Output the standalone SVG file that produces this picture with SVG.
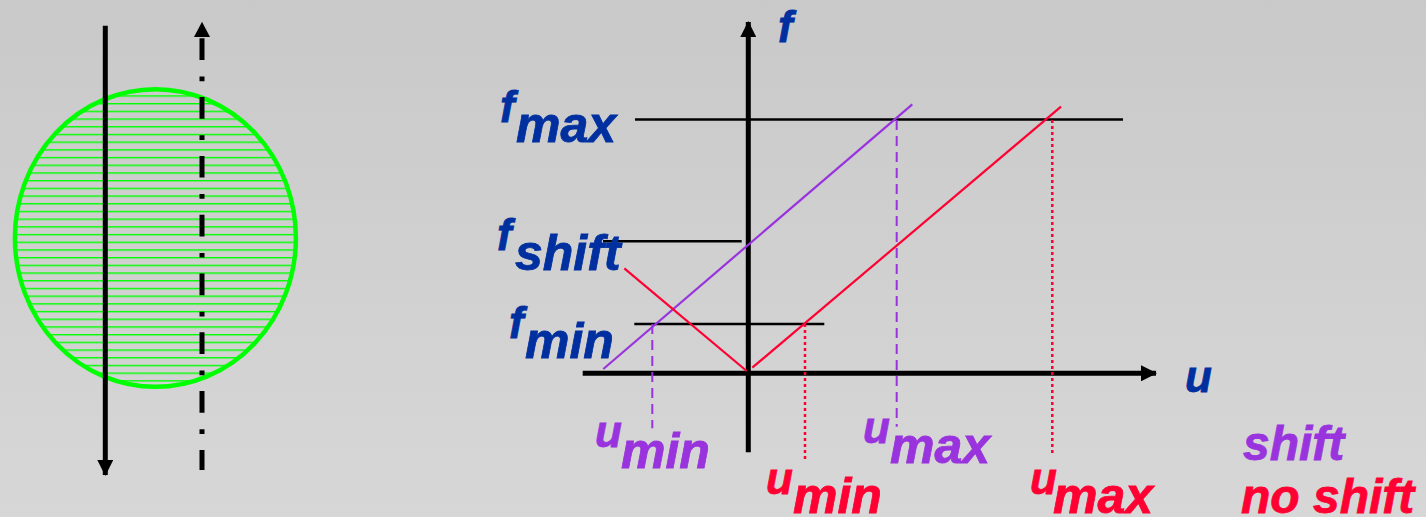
<svg xmlns="http://www.w3.org/2000/svg" width="1426" height="517" viewBox="0 0 1426 517">
<style>
text{font-family:"Liberation Sans",Arial,sans-serif;font-weight:bold;font-style:italic;stroke-width:0.8}
.m{font-size:44px}
.s{font-size:50px}
.blue{fill:#0030A0;stroke:#0030A0}
.pur{fill:#9933DD;stroke:#9933DD}
.red{fill:#FF0033;stroke:#FF0033}
.ax{stroke:#000;stroke-width:5;fill:none}
.ref{stroke:#000;stroke-width:2.5;fill:none}
.pl{stroke:#9933DD;stroke-width:2.2;fill:none}
.rl{stroke:#FF0033;stroke-width:2.2;fill:none}
.pd{stroke:#9933DD;stroke-width:2;stroke-dasharray:10 6;fill:none}
.rd{stroke:#FF0033;stroke-width:2.5;stroke-dasharray:3 3;fill:none}
</style>
<defs>
<linearGradient id="bg" x1="0" y1="0" x2="0" y2="1">
<stop offset="0" stop-color="#C9C9C9"/>
<stop offset="1" stop-color="#D7D7D7"/>
</linearGradient>
<pattern id="hatch" patternUnits="userSpaceOnUse" x="0" y="0" width="20" height="7.7">
<line x1="0" y1="3.6" x2="20" y2="3.6" stroke="#00FF00" stroke-width="1.4"/>
</pattern>
<marker id="ah" viewBox="0 0 16 16" refX="15" refY="8" markerWidth="16" markerHeight="16" markerUnits="userSpaceOnUse" orient="auto">
<path d="M0,0 L16,8 L0,16 Z" fill="#000"/>
</marker>
</defs>
<rect width="1426" height="517" fill="url(#bg)"/>

<g id="beam">
<ellipse cx="155.4" cy="238" rx="140.5" ry="148.8" fill="url(#hatch)" stroke="#00FF00" stroke-width="4.5"/>
</g>

<g id="connectors">
<line x1="105.3" y1="25.7" x2="105.3" y2="475" stroke="#000" stroke-width="5" marker-end="url(#ah)"/>
<line x1="202" y1="38.3" x2="202" y2="470" stroke="#000" stroke-width="5" stroke-dasharray="21.7 16.5 4.7 15.9"/>
<path d="M202,21.7 L210,37 L194,37 Z" fill="#000"/>
<line class="ax" x1="748.3" y1="452.3" x2="748.3" y2="22" marker-end="url(#ah)"/>
<line class="ax" x1="582.7" y1="373.3" x2="1156" y2="373.3" marker-end="url(#ah)"/>
<line class="ref" x1="635" y1="119.5" x2="1123" y2="119.5"/>
<line class="ref" x1="603" y1="241.3" x2="741.7" y2="241.3"/>
<line class="ref" x1="634.3" y1="324" x2="824.3" y2="324"/>
<line class="pl" x1="603.3" y1="369" x2="912.3" y2="104.3"/>
<line class="rl" x1="624.3" y1="268.3" x2="746.7" y2="371"/>
<line class="rl" x1="752.3" y1="367.7" x2="1061" y2="106.7"/>
<line class="pd" x1="652.3" y1="324" x2="652.3" y2="428.3"/>
<line class="pd" x1="896.7" y1="120" x2="896.7" y2="426.7"/>
<line class="rd" x1="805" y1="324" x2="805" y2="460"/>
<line class="rd" x1="1052.3" y1="120" x2="1052.3" y2="455"/>
</g>

<g id="label-f"><text class="m blue" x="778" y="42">f</text></g>
<g id="label-u"><text class="m blue" x="1185" y="392">u</text></g>
<g id="label-fmax"><text class="blue"><tspan class="m" x="500" y="122">f</tspan><tspan class="s" x="516" y="142">max</tspan></text></g>
<g id="label-fshift"><text class="blue"><tspan class="m" x="497" y="250">f</tspan><tspan class="s" x="515" y="270">shift</tspan></text></g>
<g id="label-fmin"><text class="blue"><tspan class="m" x="509" y="338">f</tspan><tspan class="s" x="525" y="358">min</tspan></text></g>
<g id="label-umin-shift"><text class="pur"><tspan class="m" x="595" y="447">u</tspan><tspan class="s" x="621" y="468">min</tspan></text></g>
<g id="label-umax-shift"><text class="pur"><tspan class="m" x="863" y="443">u</tspan><tspan class="s" x="890" y="463">max</tspan></text></g>
<g id="label-umin-noshift"><text class="red"><tspan class="m" x="766" y="494">u</tspan><tspan class="s" x="793" y="513">min</tspan></text></g>
<g id="label-umax-noshift"><text class="red"><tspan class="m" x="1030" y="494">u</tspan><tspan class="s" x="1053" y="513">max</tspan></text></g>
<g id="legend-shift"><text class="pur" x="1243" y="460" style="font-size:48px">shift</text></g>
<g id="legend-noshift"><text class="red" x="1241" y="513" style="font-size:48px">no shift</text></g>
</svg>
